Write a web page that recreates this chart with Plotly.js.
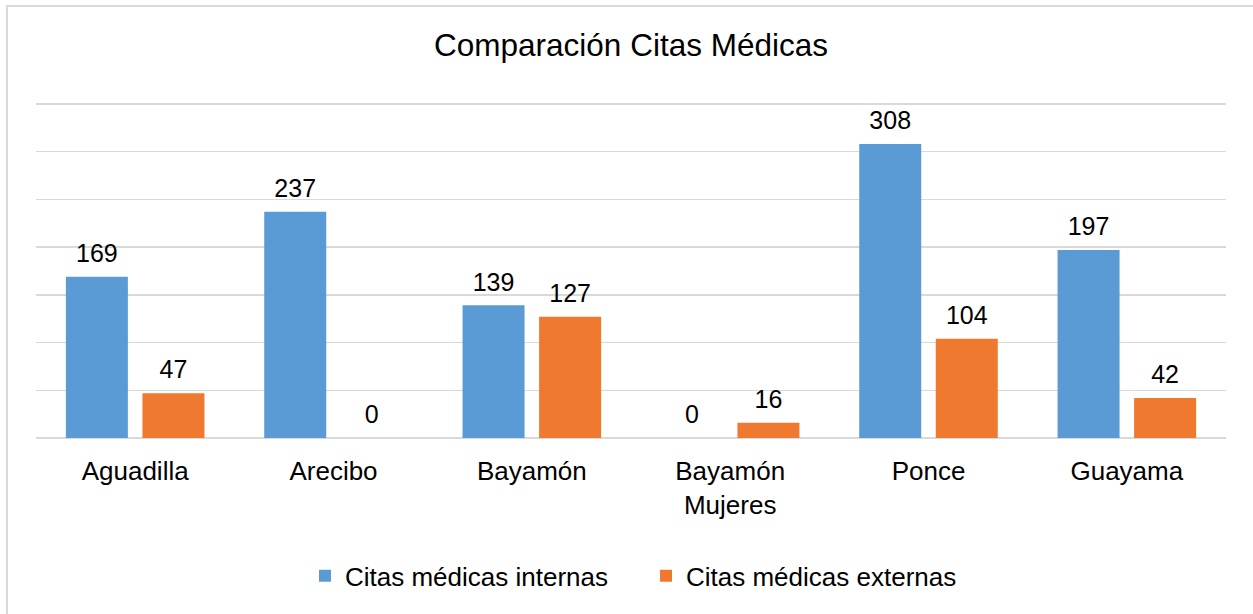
<!DOCTYPE html>
<html>
<head>
<meta charset="utf-8">
<script src="https://cdn.plot.ly/plotly-3.0.1.min.js"></script>
<style>
  html, body { margin: 0; padding: 0; background: #fff; }
  #wrap { position: relative; width: 1253px; height: 614px; overflow: hidden; }
  #frame { position: absolute; left: 6px; top: 5px; width: 1300px; height: 700px;
           border-left: 2px solid #D9D9D9; border-top: 2px solid #D9D9D9; pointer-events: none; }
  #chart { position: absolute; left: 0; top: 0; width: 1253px; height: 614px; }
</style>
</head>
<body>
<div id="wrap">
  <div id="chart"></div>
  <div id="frame"></div>
</div>
<script>
const categories = ["Aguadilla", "Arecibo", "Bayamón", "Bayamón<br>Mujeres", "Ponce", "Guayama"];
const internas = [169, 237, 139, 0, 308, 197];
const externas = [47, 0, 127, 16, 104, 42];
const seriesNames = ["Citas médicas internas", "Citas médicas externas"];

const FONT = "Arial, 'Liberation Sans', sans-serif";
const blue = "#5B9BD5";
const orange = "#EF7A2F";

const bar = (y, name, color) => ({
  type: "bar", x: categories, y: y, name: name,
  marker: { color: color, line: { width: 0 } },
  hoverinfo: "skip"
});
const lbl = (y) => ({
  type: "scatter", mode: "markers+text", x: categories, y: y,
  text: y.map(String), textposition: "top center",
  textfont: { family: FONT, size: 25, color: "#000" },
  marker: { size: 12, opacity: 0, color: "rgba(0,0,0,0)" },
  showlegend: false, cliponaxis: false, hoverinfo: "skip"
});

const data = [
  bar(internas, seriesNames[0], blue),
  bar(externas, seriesNames[1], orange),
  lbl(internas),
  lbl(externas)
];

const layout = {
  width: 1253, height: 614,
  margin: { l: 36, r: 27, t: 102, b: 176 },
  paper_bgcolor: "rgba(0,0,0,0)", plot_bgcolor: "rgba(0,0,0,0)",
  font: { family: FONT, color: "#000" },
  title: { text: "Comparación Citas Médicas", font: { family: FONT, size: 31.5, color: "#000" },
           x: 0.5, xref: "paper", xanchor: "center", y: 1 - 45/614, yref: "container", yanchor: "middle" },
  barmode: "group", bargap: 0.228, bargroupgap: 0.19,
  scattermode: "group", scattergap: 0.228,
  xaxis: {
    type: "category", tickfont: { family: FONT, size: 26, color: "#000" },
    ticks: "outside", ticklen: 10, tickcolor: "rgba(0,0,0,0)",
    showline: false, showgrid: false, fixedrange: true
  },
  yaxis: {
    range: [0, 352], tickvals: [0, 50, 100, 150, 200, 250, 300, 350], showticklabels: false, ticks: "",
    showgrid: true, gridcolor: "#D9D9D9", gridwidth: 1.5,
    zeroline: true, zerolinecolor: "#D9D9D9", zerolinewidth: 1.5,
    fixedrange: true
  },
  showlegend: true,
  legend: {
    orientation: "h", x: 0.5126, xanchor: "center", xref: "paper",
    y: -0.41, yanchor: "middle", entrywidth: 296,
    font: { family: FONT, size: 26, color: "#000" },
    itemclick: false, itemdoubleclick: false, traceorder: "normal"
  }
};

Plotly.newPlot("chart", data, layout, { staticPlot: true, displayModeBar: false });
</script>
</body>
</html>
